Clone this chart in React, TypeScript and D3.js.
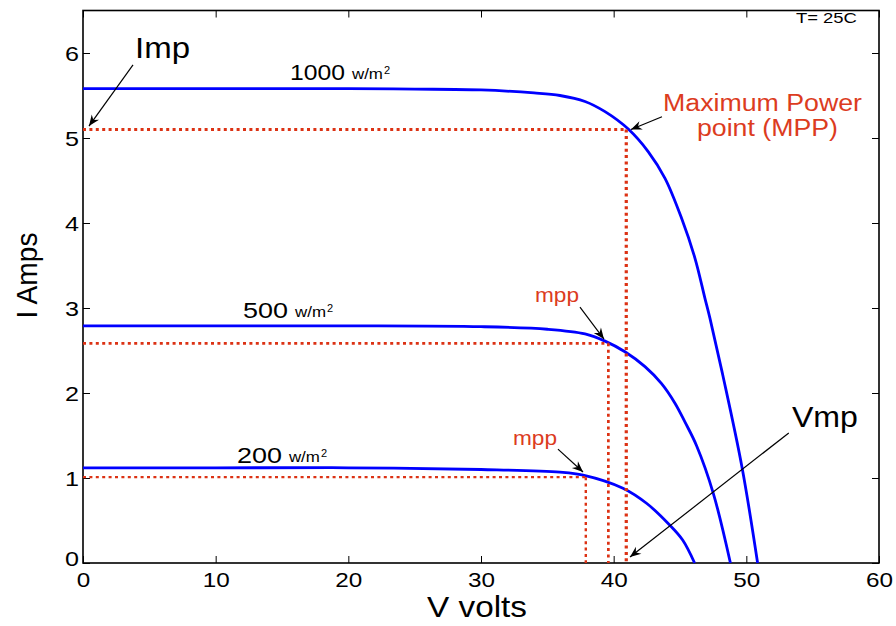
import React, { useRef, useEffect } from 'react';
import * as d3 from 'd3';

const WIDTH = 896;
const HEIGHT = 626;
const FONT = '"Liberation Sans", Arial, Helvetica, sans-serif';
const BLUE = '#0000ff';
const RED_DOT = '#dc3214';
const RED_TEXT = '#dc3c1e';

// I-V curves: voltage (V) and current (A)
const v1000 = [0, 10, 20, 25, 30, 34, 35.95, 37.84, 39.35, 41.1, 42.6, 43.87, 45.12, 46.13, 46.88, 47.26, 48.24, 49.67, 50.85];
const i1000 = [5.58, 5.58, 5.58, 5.575, 5.565, 5.53, 5.5, 5.43, 5.31, 5.105, 4.84, 4.525, 4.055, 3.585, 3.114, 2.878, 2.2, 1.13, 0];

const v500 = [0, 10, 20, 30, 35, 37.84, 39.35, 40.85, 42.36, 43.61, 44.62, 45.37, 46.25, 47.51, 48.8];
const i500 = [2.79, 2.79, 2.79, 2.78, 2.75, 2.695, 2.61, 2.485, 2.31, 2.11, 1.88, 1.66, 1.38, 0.82, 0];

const v200 = [0, 10, 20, 30, 35.95, 37.7, 40.7, 42.5, 44.2, 45.2, 46.1];
const i200 = [1.12, 1.12, 1.12, 1.1, 1.07, 1.035, 0.88, 0.7, 0.45, 0.27, 0];

const irradiance = ['1000', '500', '200'];

// maximum power points (V, A)
const mppV = [40.95, 39.6, 37.9];
const mppI = [5.1, 2.585, 1.01];

const xTicks = [0, 10, 20, 30, 40, 50, 60];
const yTicks = [0, 1, 2, 3, 4, 5, 6];

const App = () => {
  const svgRef = useRef<SVGSVGElement>(null);

  useEffect(() => {
    const margin = { top: 10.5, right: 17, bottom: 63, left: 83 };
    const svg = d3.select(svgRef.current);
    svg.selectAll('*').remove();

    const x = d3.scaleLinear().domain([0, 60]).range([margin.left, WIDTH - margin.right]);
    const y = d3.scaleLinear().domain([0, 6.5]).range([HEIGHT - margin.bottom, margin.top]);

    const defs = svg.append('defs');
    defs.append('marker')
      .attr('id', 'ah')
      .attr('viewBox', '-12 -6 14 12')
      .attr('refX', 0)
      .attr('refY', 0)
      .attr('markerWidth', 14)
      .attr('markerHeight', 12)
      .attr('markerUnits', 'userSpaceOnUse')
      .attr('orient', 'auto')
      .append('path')
      .attr('d', 'M0,0 L-11,-4.5 L-7.5,0 L-11,4.5 Z')
      .attr('fill', '#000');

    // axes with inward ticks (box style)
    const styleAxis = (g) => {
      g.select('.domain').remove();
      g.attr('font-size', null).attr('font-family', null);
      g.selectAll('line').attr('stroke', '#000').attr('stroke-width', 1);
    };

    const xAxis = svg.append('g')
      .attr('transform', `translate(0,${y(0)})`)
      .call(d3.axisBottom(x).tickValues(xTicks).tickFormat(d3.format('d'))
        .tickSize(-7).tickSizeOuter(0).tickPadding(9));
    styleAxis(xAxis);
    xAxis.selectAll('text')
      .attr('font-family', FONT)
      .attr('font-size', 21)
      .attr('fill', '#000')
      .attr('textLength', (d) => String(d).length * 13.5)
      .attr('lengthAdjust', 'spacingAndGlyphs');

    const yAxis = svg.append('g')
      .attr('transform', `translate(${x(0)},0)`)
      .call(d3.axisLeft(y).tickValues(yTicks).tickFormat(d3.format('d'))
        .tickSize(-7).tickSizeOuter(0).tickPadding(4));
    styleAxis(yAxis);
    yAxis.selectAll('text')
      .attr('font-family', FONT)
      .attr('font-size', 21)
      .attr('fill', '#000')
      .attr('dy', (d) => (d === 0 ? '0.1em' : '0.34em'))
      .attr('textLength', 14)
      .attr('lengthAdjust', 'spacingAndGlyphs');

    const topAxis = svg.append('g')
      .attr('transform', `translate(0,${y(6.5)})`)
      .call(d3.axisTop(x).tickValues(xTicks).tickSize(-7).tickSizeOuter(0).tickFormat(() => ''));
    styleAxis(topAxis);

    const rightAxis = svg.append('g')
      .attr('transform', `translate(${x(60)},0)`)
      .call(d3.axisRight(y).tickValues(yTicks).tickSize(-7).tickSizeOuter(0).tickFormat(() => ''));
    styleAxis(rightAxis);

    svg.append('rect')
      .attr('x', x(0))
      .attr('y', y(6.5))
      .attr('width', x(60) - x(0))
      .attr('height', y(0) - y(6.5))
      .attr('fill', 'none')
      .attr('stroke', '#000')
      .attr('stroke-width', 1.6);

    // axis titles
    svg.append('text')
      .attr('x', (x(0) + x(60)) / 2 - 4)
      .attr('y', 617)
      .attr('text-anchor', 'middle')
      .attr('font-family', FONT)
      .attr('font-size', 29)
      .attr('textLength', 100)
      .attr('lengthAdjust', 'spacingAndGlyphs')
      .text('V volts');

    svg.append('text')
      .attr('transform', `translate(37,${y(3.5) + 10}) rotate(-90)`)
      .attr('text-anchor', 'middle')
      .attr('font-family', FONT)
      .attr('font-size', 30)
      .attr('textLength', 86)
      .attr('lengthAdjust', 'spacingAndGlyphs')
      .text('I Amps');

    // I-V curves
    const line = d3.line<number[]>()
      .x((d) => x(d[0]))
      .y((d) => y(d[1]))
      .curve(d3.curveCatmullRom.alpha(0.5));

    const curves = [
      d3.zip(v1000, i1000),
      d3.zip(v500, i500),
      d3.zip(v200, i200),
    ];

    svg.selectAll('.iv')
      .data(curves)
      .join('path')
      .attr('class', 'iv')
      .attr('d', (d) => line(d))
      .attr('fill', 'none')
      .attr('stroke', BLUE)
      .attr('stroke-width', 2.8);

    // dotted MPP guides
    const dotWidth = [3.2, 2.7, 2.4];
    mppV.forEach((v, k) => {
      const g = svg.append('g')
        .attr('stroke', RED_DOT)
        .attr('stroke-width', dotWidth[k])
        .attr('stroke-dasharray', '3,3.4');
      g.append('line')
        .attr('x1', x(0)).attr('y1', y(mppI[k]))
        .attr('x2', x(v)).attr('y2', y(mppI[k]));
      g.append('line')
        .attr('x1', x(v)).attr('y1', y(mppI[k]))
        .attr('x2', x(v)).attr('y2', y(0));
    });

    // irradiance labels
    const irrPos = [[15.6, 5.68, 55], [12.06, 2.88, 45], [11.6, 1.176, 45]];
    irradiance.forEach((txt, k) => {
      const [vx, iy, w] = irrPos[k];
      const px = x(vx);
      const py = y(iy);
      svg.append('text')
        .attr('x', px).attr('y', py)
        .attr('font-family', FONT).attr('font-size', 22)
        .attr('textLength', w).attr('lengthAdjust', 'spacingAndGlyphs')
        .text(txt);
      svg.append('text')
        .attr('x', px + w + 7).attr('y', py - 1)
        .attr('font-family', FONT).attr('font-size', 14)
        .attr('textLength', 31).attr('lengthAdjust', 'spacingAndGlyphs')
        .text('w/m');
      svg.append('text')
        .attr('x', px + w + 39).attr('y', py - 6)
        .attr('font-family', FONT).attr('font-size', 11)
        .text('2');
    });

    // annotations
    const arrows = [
      [3.77, 5.86, 0.45, 5.14],
      [43.64, 5.25, 41.3, 5.1],
      [37.46, 3.01, 39.27, 2.635],
      [35.8, 1.34, 37.69, 1.07],
      [53.2, 1.53, 41.23, 0.07],
    ];
    svg.selectAll('.arrow')
      .data(arrows)
      .join('line')
      .attr('class', 'arrow')
      .attr('x1', (d) => x(d[0])).attr('y1', (d) => y(d[1]))
      .attr('x2', (d) => x(d[2])).attr('y2', (d) => y(d[3]))
      .attr('stroke', '#000')
      .attr('stroke-width', 1.2)
      .attr('marker-end', 'url(#ah)');

    const notes = [
      { t: 'Imp', v: 3.92, i: 5.94, size: 29, w: 55, c: '#000' },
      { t: 'Vmp', v: 53.44, i: 1.6, size: 29, w: 66, c: '#000' },
      { t: 'Maximum Power', v: 43.72, i: 5.318, size: 23, w: 199, c: RED_TEXT },
      { t: 'point (MPP)', v: 46.28, i: 5.02, size: 23, w: 141, c: RED_TEXT },
      { t: 'mpp', v: 34.07, i: 3.07, size: 21, w: 44, c: RED_TEXT },
      { t: 'mpp', v: 32.41, i: 1.39, size: 21, w: 44, c: RED_TEXT },
      { t: 'T= 25C', v: 53.74, i: 6.35, size: 14, w: 61, c: '#000' },
    ];
    svg.selectAll('.note')
      .data(notes)
      .join('text')
      .attr('class', 'note')
      .attr('x', (d) => x(d.v))
      .attr('y', (d) => y(d.i))
      .attr('font-family', FONT)
      .attr('font-size', (d) => d.size)
      .attr('fill', (d) => d.c)
      .attr('textLength', (d) => d.w)
      .attr('lengthAdjust', 'spacingAndGlyphs')
      .text((d) => d.t);
  }, []);

  return (
    <svg
      ref={svgRef}
      width={WIDTH}
      height={HEIGHT}
      style={{ position: 'absolute', left: 0, top: 0, background: '#fff' }}
    />
  );
};

export default App;
